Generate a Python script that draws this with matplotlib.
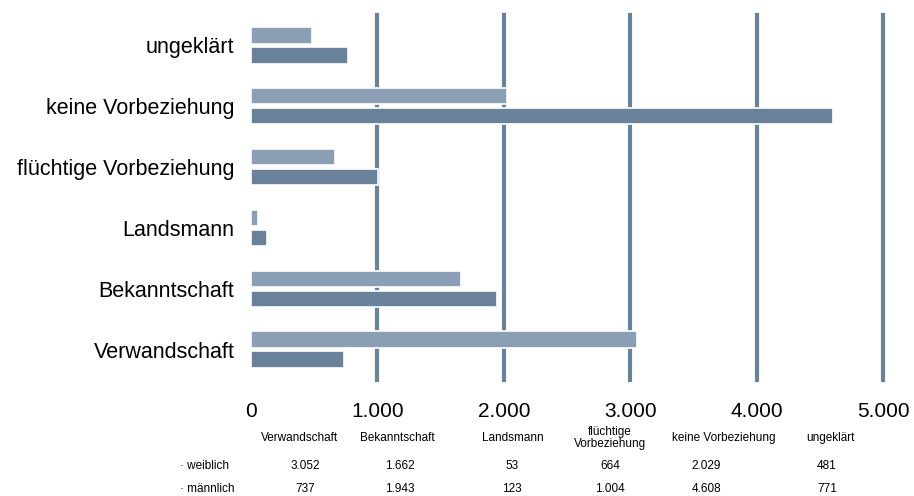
import numpy as np
import matplotlib.pyplot as plt

plt.rcParams['font.family'] = ['Liberation Sans', 'DejaVu Sans']

categories = ['Verwandschaft', 'Bekanntschaft', 'Landsmann',
              'flüchtige Vorbeziehung', 'keine Vorbeziehung', 'ungeklärt']
table_headers = ['Verwandschaft', 'Bekanntschaft', 'Landsmann',
                 'flüchtige\nVorbeziehung', 'keine Vorbeziehung', 'ungeklärt']
weiblich = [3052, 1662, 53, 664, 2029, 481]
maennlich = [737, 1943, 123, 1004, 4608, 771]
xticks = [0, 1000, 2000, 3000, 4000, 5000]
xtick_labels = ['0', '1.000', '2.000', '3.000', '4.000', '5.000']

col_light = '#8a9fb3'
col_dark = '#6a8299'

fig = plt.figure(figsize=(9.14, 4.96), dpi=100)
ax = fig.add_axes([251 / 914, 1 - 380 / 496, 632 / 914, 365 / 496])

y = np.arange(len(categories))
ax.barh(y + 0.164, weiblich, height=0.27, color=col_light,
        edgecolor='white', linewidth=1.2, zorder=3)
ax.barh(y - 0.164, maennlich, height=0.27, color=col_dark,
        edgecolor='white', linewidth=1.2, zorder=3)

ax.set_xlim(0, 5000)
ax.set_ylim(-0.5, 5.5)
ax.set_yticks(y)
ax.set_yticklabels(categories, fontsize=15.5)
ax.set_xticks(xticks)
ax.set_xticklabels(xtick_labels, fontsize=15)
ax.tick_params(length=0)
ax.tick_params(axis='y', pad=12)
ax.tick_params(axis='x', pad=16)
for s in ax.spines.values():
    s.set_visible(False)
for xv in xticks[1:]:
    ax.axvline(xv, color=col_dark, linewidth=3, zorder=1, clip_on=False)

# Datentabelle unter dem Diagramm
head_x = [300, 397, 513, 610, 724, 830]
val_x = [305, 400, 512, 610, 706, 827]
for i, head in enumerate(table_headers):
    fig.text(head_x[i] / 914, 1 - 438 / 496, head, ha='center', va='center',
             fontsize=8.5, linespacing=1.05)
    fig.text(val_x[i] / 914, 1 - 466 / 496, f'{weiblich[i]:,}'.replace(',', '.'),
             ha='center', va='center', fontsize=8.5)
    fig.text(val_x[i] / 914, 1 - 489 / 496, f'{maennlich[i]:,}'.replace(',', '.'),
             ha='center', va='center', fontsize=8.5)
fig.text(180 / 914, 1 - 466 / 496, '· weiblich', ha='left', va='center', fontsize=8.5)
fig.text(180 / 914, 1 - 489 / 496, '· männlich', ha='left', va='center', fontsize=8.5)

fig.savefig('out.png', dpi=100)
